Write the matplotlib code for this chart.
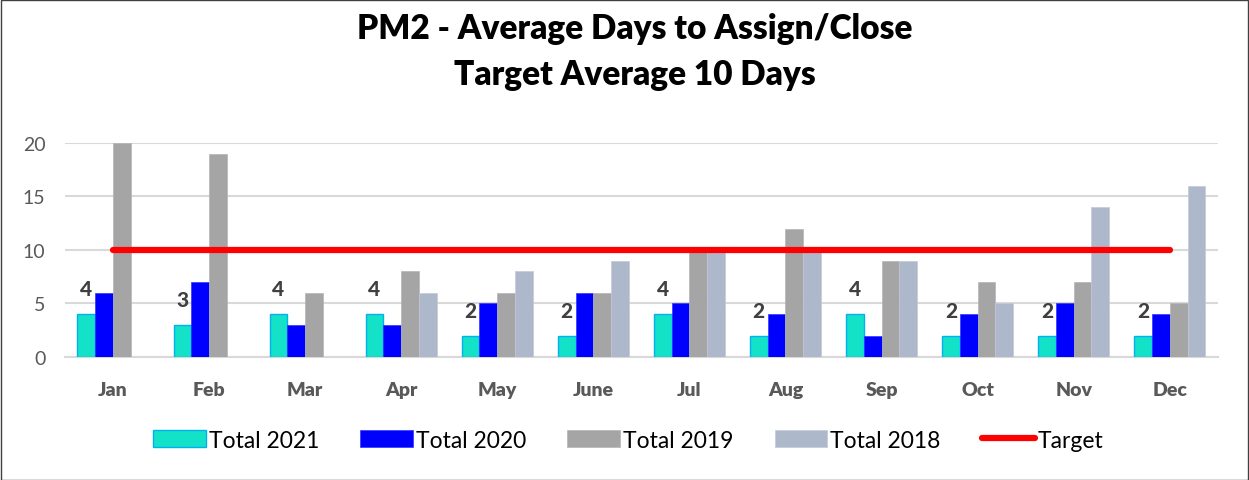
import numpy as np
import matplotlib
matplotlib.use("Agg")
import matplotlib.pyplot as plt

months = ["Jan", "Feb", "Mar", "Apr", "May", "June", "Jul", "Aug", "Sep", "Oct", "Nov", "Dec"]
total_2021 = [4, 3, 4, 4, 2, 2, 4, 2, 4, 2, 2, 2]
total_2020 = [6, 7, 3, 3, 5, 6, 5, 4, 2, 4, 5, 4]
total_2019 = [20, 19, 6, 8, 6, 6, 10, 12, 9, 7, 7, 5]
total_2018 = [np.nan, np.nan, np.nan, 6, 8, 9, 10, 10, 9, 5, 14, 16]
target = [10] * 12

plt.rcParams["font.family"] = ["Lato", "DejaVu Sans"]

fig = plt.figure(figsize=(12.49, 4.81), dpi=100)
ax = fig.add_axes([0.052, 0.2557, 0.923, 0.445])

x = np.arange(len(months))
w = 0.185

b1 = ax.bar(x - 1.5 * w, total_2021, w, color="#13E2C9", edgecolor="#00B0F0", linewidth=1, label="Total 2021", zorder=3)
b2 = ax.bar(x - 0.5 * w, total_2020, w, color="#0000FF", edgecolor="#3333FF", linewidth=0.5, label="Total 2020", zorder=3)
b3 = ax.bar(x + 0.5 * w, total_2019, w, color="#A5A5A5", edgecolor="#B5B5B5", linewidth=0.5, label="Total 2019", zorder=3)
b4 = ax.bar(x + 1.5 * w, total_2018, w, color="#ADB9CA", edgecolor="#C0CAD8", linewidth=0.5, label="Total 2018", zorder=3)
ln, = ax.plot(x, target, color="#FF0000", linewidth=4.5, solid_capstyle="round", label="Target", zorder=4)

# data labels for 2021
for xi, v in zip(x, total_2021):
    ax.text(xi - 1.5 * w, v + 1.5, str(v), ha="center", va="bottom",
            fontsize=15, fontweight="black", color="#404040", zorder=5)

ax.set_xlim(-0.5, 11.5)
ax.set_ylim(0, 20)
ax.set_yticks([0, 5, 10, 15, 20])
ax.grid(axis="y", color="#D9D9D9", linewidth=1.5, zorder=0)
ax.set_xticks(x)
ax.set_xticklabels(months, fontsize=14, fontweight="heavy", color="#595959")
ax.tick_params(axis="y", labelsize=14, colors="#595959", length=0, pad=14)
ax.tick_params(axis="x", length=0, pad=17)
for s in ["top", "right", "left"]:
    ax.spines[s].set_visible(False)
ax.spines["bottom"].set_color("#D9D9D9")
ax.spines["bottom"].set_linewidth(1.5)

fig.text(0.508, 0.94, "PM2 - Average Days to Assign/Close", ha="center", va="center",
         fontsize=24, fontweight="heavy", color="black")
fig.text(0.508, 0.845, "Target Average 10 Days", ha="center", va="center",
         fontsize=24, fontweight="heavy", color="black")

fig.legend(handles=[b1, b2, b3, b4, ln], loc="center", bbox_to_anchor=(0.503, 0.083), ncol=5,
           frameon=False, fontsize=16.5, handlelength=2.3, handleheight=0.8,
           handletextpad=0.13, columnspacing=1.8)

border = plt.Rectangle((0.001, 0.001), 0.998, 0.997, transform=fig.transFigure,
                       fill=False, edgecolor="#404040", linewidth=1)
fig.patches.append(border)

fig.savefig("out.png", dpi=100)
